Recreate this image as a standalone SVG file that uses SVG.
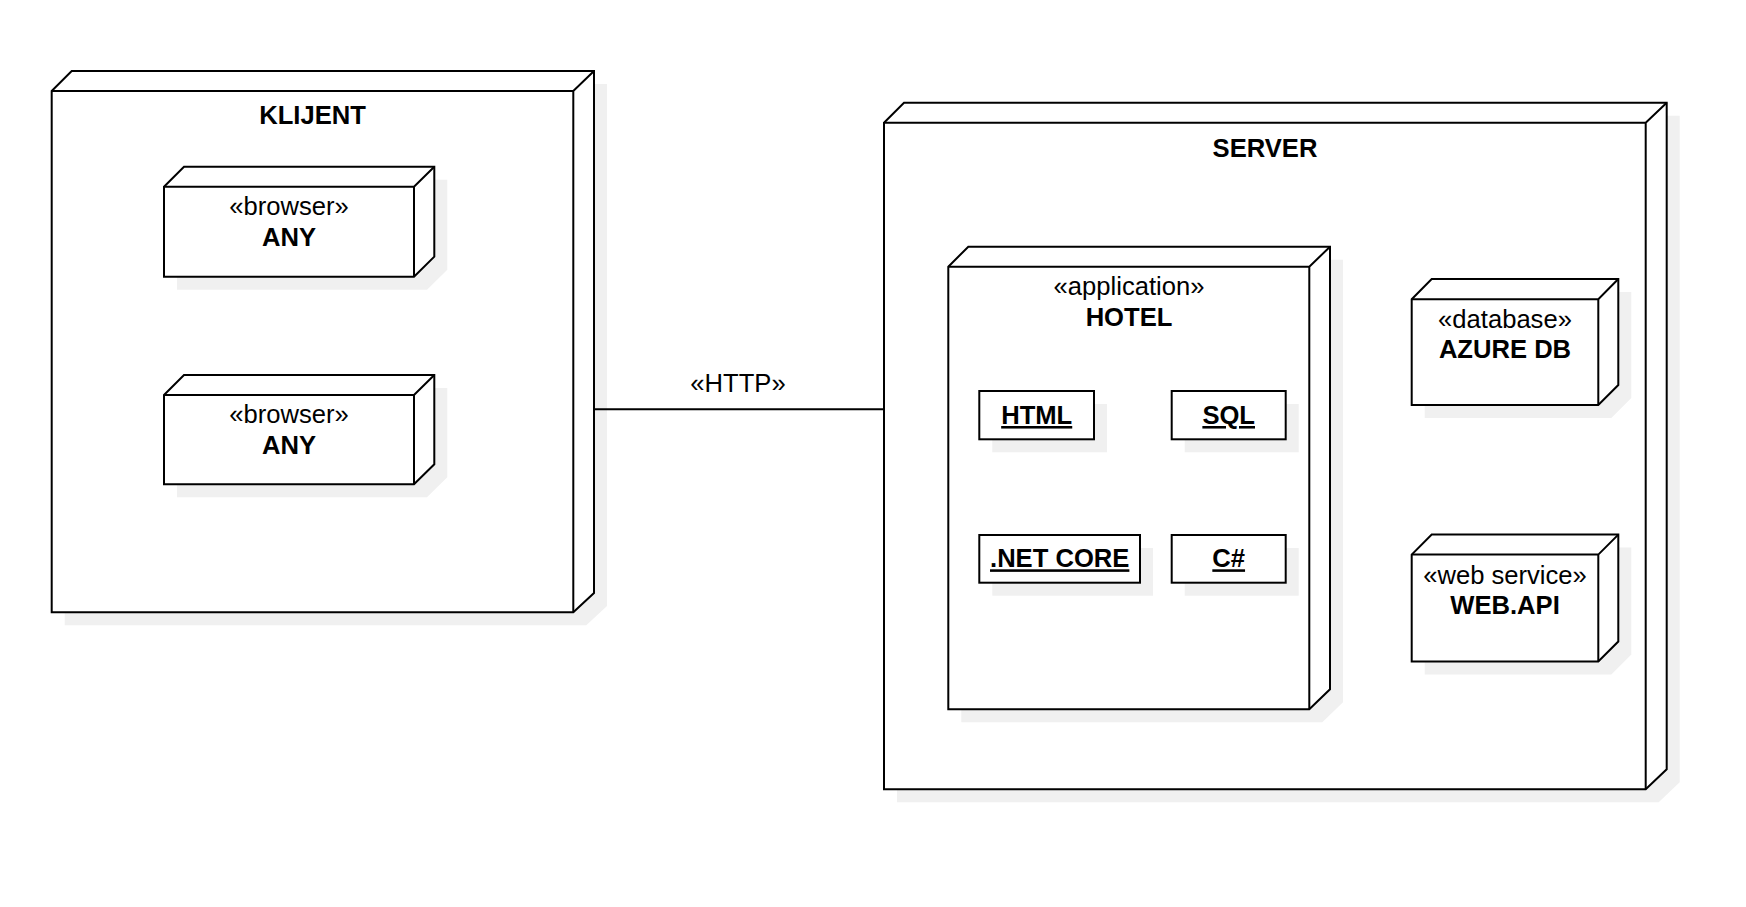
<svg xmlns="http://www.w3.org/2000/svg" width="1746" height="907" viewBox="0 0 1746 907">
<style>
.shadow{fill:#f0f0f0;stroke:none}
.box{fill:#ffffff;stroke:#000000;stroke-width:2;stroke-linejoin:miter}
.edge{fill:none;stroke:#000000;stroke-width:2}
.t{font-family:"Liberation Sans",Arial,sans-serif;font-size:25.6px;fill:#000000;text-anchor:middle}
.b{font-weight:bold}
.u{font-weight:bold;text-decoration:underline}
</style>
<rect width="1746" height="907" fill="#ffffff"/>

<g id="klijent">
<path class="shadow" d="M64.7,104 L84.7,84 L607,84 L607,606 L586.3,625.3 L64.7,625.3 Z"/>
<path class="box" d="M51.7,91 L71.7,71 L594,71 L594,593 L573.3,612.3 L51.7,612.3 Z"/>
<path class="edge" d="M51.7,91 L573.3,91 L594,71 M573.3,91 L573.3,612.3"/>
<text class="t b" x="312.5" y="123.6">KLIJENT</text>
</g>

<g id="browser1">
<path class="shadow" d="M177,199.7 L197,179.7 L447.3,179.7 L447.3,269.7 L427,289.7 L177,289.7 Z"/>
<path class="box" d="M164,186.7 L184,166.7 L434.3,166.7 L434.3,256.7 L414,276.7 L164,276.7 Z"/>
<path class="edge" d="M164,186.7 L414,186.7 L434.3,166.7 M414,186.7 L414,276.7"/>
<text class="t" x="289" y="215">«browser»</text>
<text class="t b" x="289" y="245.7">ANY</text>
</g>

<g id="browser2">
<path class="shadow" d="M177,408 L197,388 L447.3,388 L447.3,477.3 L427,497.3 L177,497.3 Z"/>
<path class="box" d="M164,395 L184,375 L434.3,375 L434.3,464.3 L414,484.3 L164,484.3 Z"/>
<path class="edge" d="M164,395 L414,395 L434.3,375 M414,395 L414,484.3"/>
<text class="t" x="289" y="423.3">«browser»</text>
<text class="t b" x="289" y="454">ANY</text>
</g>

<g id="server">
<path class="shadow" d="M897,135.7 L917,115.7 L1679.7,115.7 L1679.7,782.3 L1658.7,802.3 L897,802.3 Z"/>
<path class="box" d="M884,122.7 L904,102.7 L1666.7,102.7 L1666.7,769.3 L1645.7,789.3 L884,789.3 Z"/>
<path class="edge" d="M884,122.7 L1645.7,122.7 L1666.7,102.7 M1645.7,122.7 L1645.7,789.3"/>
<text class="t b" x="1265" y="156.5">SERVER</text>
</g>

<g id="hotel">
<path class="shadow" d="M961.3,279.7 L981.3,259.7 L1343,259.7 L1343,702.3 L1322.3,722.3 L961.3,722.3 Z"/>
<path class="box" d="M948.3,266.7 L968.3,246.7 L1330,246.7 L1330,689.3 L1309.3,709.3 L948.3,709.3 Z"/>
<path class="edge" d="M948.3,266.7 L1309.3,266.7 L1330,246.7 M1309.3,266.7 L1309.3,709.3"/>
<text class="t" x="1129" y="295">«application»</text>
<text class="t b" x="1129" y="325.7">HOTEL</text>
</g>

<g id="html">
<rect class="shadow" x="992.3" y="404" width="114.7" height="48.3"/>
<rect class="box" x="979.3" y="391" width="114.7" height="48.3"/>
<text class="t u" x="1036.7" y="424">HTML</text>
</g>

<g id="sql">
<rect class="shadow" x="1184.7" y="404" width="114" height="48.3"/>
<rect class="box" x="1171.7" y="391" width="114" height="48.3"/>
<text class="t u" x="1228.7" y="424">SQL</text>
</g>

<g id="netcore">
<rect class="shadow" x="992.3" y="548" width="160.7" height="47.7"/>
<rect class="box" x="979.3" y="535" width="160.7" height="47.7"/>
<text class="t u" x="1059.7" y="567.3">.NET CORE</text>
</g>

<g id="csharp">
<rect class="shadow" x="1184.7" y="548" width="114" height="47.7"/>
<rect class="box" x="1171.7" y="535" width="114" height="47.7"/>
<text class="t u" x="1228.7" y="567.3">C#</text>
</g>

<g id="azuredb">
<path class="shadow" d="M1424.7,312.3 L1444.7,292 L1631.3,292 L1631.3,398 L1611.3,418 L1424.7,418 Z"/>
<path class="box" d="M1411.7,299.3 L1431.7,279 L1618.3,279 L1618.3,385 L1598.3,405 L1411.7,405 Z"/>
<path class="edge" d="M1411.7,299.3 L1598.3,299.3 L1618.3,279 M1598.3,299.3 L1598.3,405"/>
<text class="t" x="1505" y="328.3">«database»</text>
<text class="t b" x="1505" y="358.3">AZURE DB</text>
</g>

<g id="webapi">
<path class="shadow" d="M1424.7,567.6 L1444.7,547.6 L1631.3,547.6 L1631.3,654.5 L1611.3,674.5 L1424.7,674.5 Z"/>
<path class="box" d="M1411.7,554.6 L1431.7,534.6 L1618.3,534.6 L1618.3,641.5 L1598.3,661.5 L1411.7,661.5 Z"/>
<path class="edge" d="M1411.7,554.6 L1598.3,554.6 L1618.3,534.6 M1598.3,554.6 L1598.3,661.5"/>
<text class="t" x="1505" y="583.6">«web service»</text>
<text class="t b" x="1505" y="613.6">WEB.API</text>
</g>

<g id="connectors">
<line class="edge" x1="594" y1="409.3" x2="884" y2="409.3"/>
<text class="t" x="738" y="392.3">«HTTP»</text>
</g>
</svg>
